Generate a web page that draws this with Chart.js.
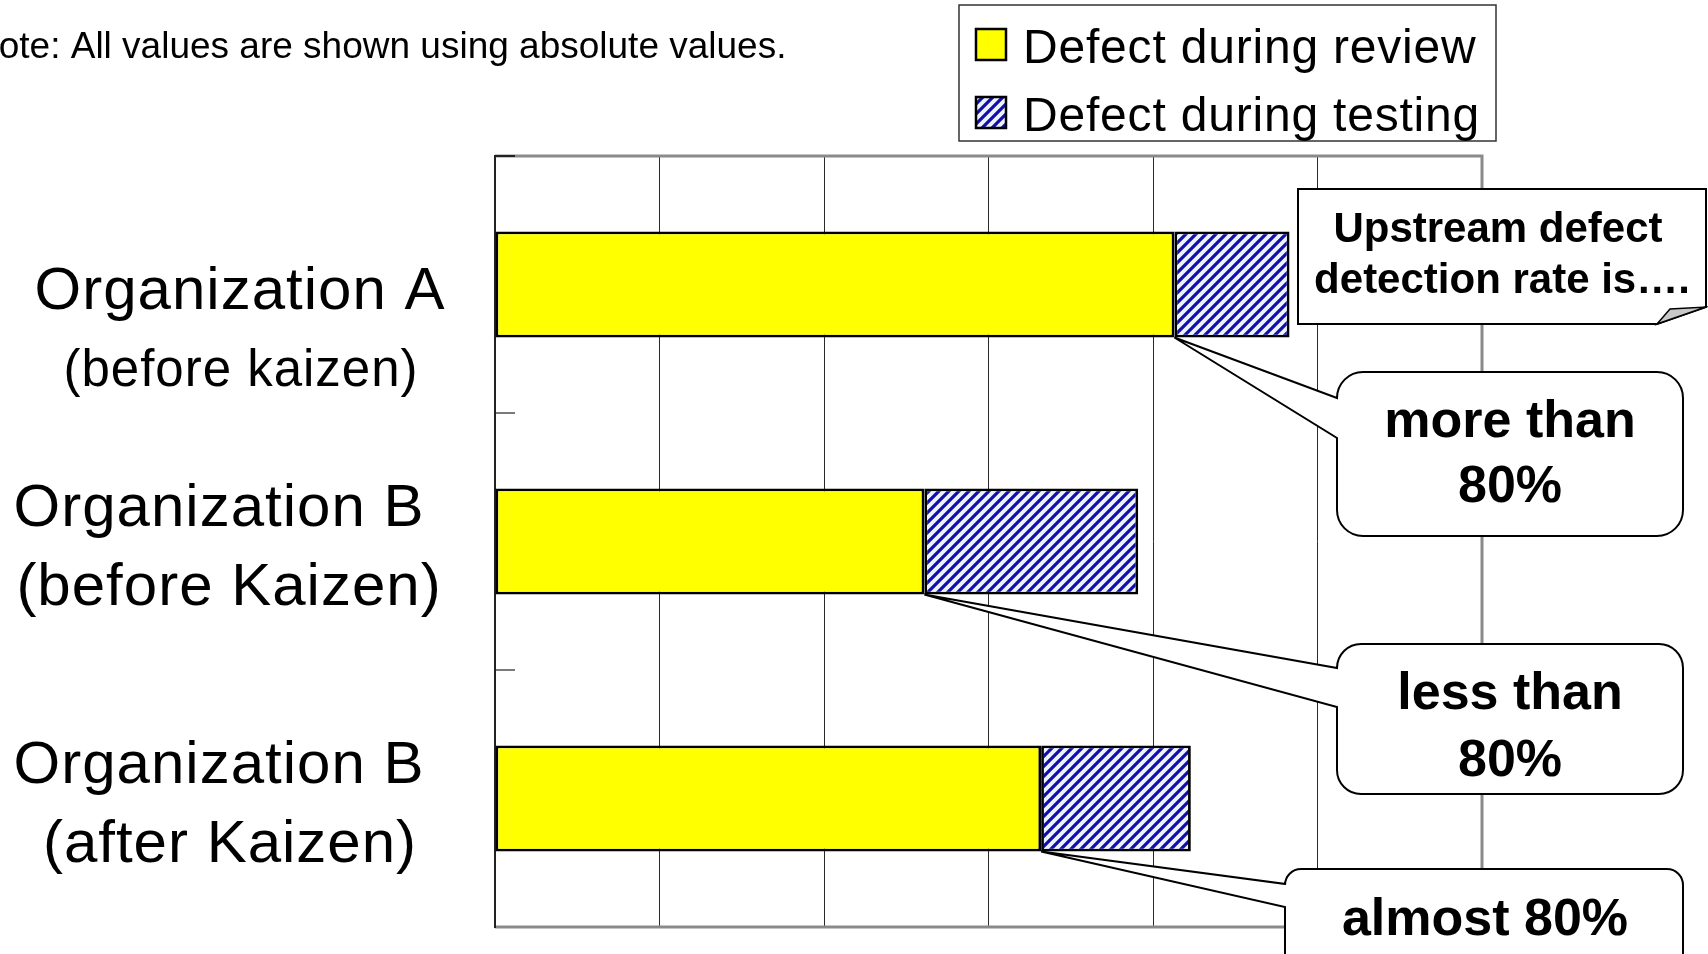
<!DOCTYPE html>
<html>
<head>
<meta charset="utf-8">
<script src="https://cdn.jsdelivr.net/npm/chart.js@4.4.0/dist/chart.umd.min.js"></script>
<style>
  html, body { margin: 0; padding: 0; background: #fff; }
  canvas { display: block; }
</style>
</head>
<body>
<canvas id="chart" width="1708" height="954"></canvas>
<script>
// data (x axis has 6 unlabeled grid steps)
const categories = [
  ['Organization A', '(before kaizen)'],
  ['Organization B', '(before Kaizen)'],
  ['Organization B', '(after Kaizen)']
];
const seriesNames = ['Defect during review', 'Defect during testing'];
const reviewDefects = [41.3, 26.1, 33.2];
const testingDefects = [7.0, 13.0, 9.1];
const calloutTexts = [['more than', '80%'], ['less than', '80%'], ['almost 80%']];
const headerLines = ['Upstream defect', 'detection rate is….'];
const noteText = 'Note: All values are shown using absolute values.';
const axisMax = 60;
const axisStep = 10;

const FONT = '"Liberation Sans", Arial, sans-serif';

// layout of the hand-placed boxes (pixels)
const calloutBoxes = [
  { x: 1337, y: 372, w: 346, h: 164, r: 26, a1: 398, a2: 438, cx: 1510, ty: [423, 488] },
  { x: 1337, y: 644, w: 346, h: 150, r: 24, a1: 668, a2: 707, cx: 1510, ty: [695, 762] },
  { x: 1285, y: 869, w: 398, h: 100, r: 16, a1: 884, a2: 907, cx: 1485, ty: [921] }
];
const labelShift = [40, 0, 0];
const labelLineX = [[240, 241], [219, 229], [219, 230]];

function makeHatch() {
  const c = document.createElement('canvas');
  c.width = 10; c.height = 10;
  const g = c.getContext('2d');
  g.fillStyle = '#eef2ff';
  g.fillRect(0, 0, 10, 10);
  g.strokeStyle = '#1010a8';
  g.lineWidth = 3.2;
  g.beginPath();
  g.moveTo(-5, 5); g.lineTo(5, -5);
  g.moveTo(0, 10); g.lineTo(10, 0);
  g.moveTo(5, 15); g.lineTo(15, 5);
  g.stroke();
  return g.createPattern(c, 'repeat');
}
const hatch = makeHatch();

function roundCallout(ctx, b, ax, ay) {
  const r = b.r, R = b.x + b.w, B = b.y + b.h;
  ctx.beginPath();
  ctx.moveTo(b.x + r, b.y);
  ctx.lineTo(R - r, b.y);
  ctx.arcTo(R, b.y, R, b.y + r, r);
  ctx.lineTo(R, B - r);
  ctx.arcTo(R, B, R - r, B, r);
  ctx.lineTo(b.x + r, B);
  ctx.arcTo(b.x, B, b.x, B - r, r);
  ctx.lineTo(b.x, b.a2);
  ctx.lineTo(ax, ay);
  ctx.lineTo(b.x, b.a1);
  ctx.arcTo(b.x, b.y, b.x + r, b.y, r);
  ctx.closePath();
}

const framePlugin = {
  id: 'frame',
  beforeDatasetsDraw(chart) {
    const { ctx, chartArea: { left, right, top, bottom } } = chart;
    const y = chart.scales.y;
    ctx.save();
    ctx.strokeStyle = '#8a8a8a';
    ctx.lineWidth = 3;
    ctx.beginPath();
    ctx.moveTo(left, top); ctx.lineTo(right, top);
    ctx.lineTo(right, bottom); ctx.lineTo(left, bottom);
    ctx.stroke();
    // small inner ticks at the category boundaries
    for (let i = 0; i < categories.length; i++) {
      const py = y.getPixelForValue(i - 0.5);
      ctx.strokeStyle = i === 0 ? '#222' : '#7a7a7a';
      ctx.lineWidth = 2;
      ctx.beginPath();
      ctx.moveTo(left, py); ctx.lineTo(left + 20, py);
      ctx.stroke();
    }
    ctx.strokeStyle = '#222';
    ctx.lineWidth = 2;
    ctx.beginPath();
    ctx.moveTo(left, top - 1); ctx.lineTo(left, bottom + 1);
    ctx.stroke();
    ctx.restore();
  }
};

const decorPlugin = {
  id: 'decor',
  afterDraw(chart) {
    const { ctx } = chart;
    const yScale = chart.scales.y;
    ctx.save();

    // note
    ctx.fillStyle = '#000';
    ctx.font = '37px ' + FONT;
    ctx.textAlign = 'left';
    ctx.textBaseline = 'alphabetic';
    ctx.fillText(noteText, -28, 58);

    // category labels
    ctx.textAlign = 'center';
    ctx.textBaseline = 'middle';
    ctx.letterSpacing = '1px';
    chart.data.labels.forEach((lines, i) => {
      const cy = yScale.getPixelForValue(i) + labelShift[i];
      lines.forEach((t, k) => {
        ctx.font = (i === 0 && k === 1 ? '51px ' : '60px ') + FONT;
        ctx.fillText(t, labelLineX[i][k], cy + (k === 0 ? -32 : 47));
      });
    });

    // legend
    ctx.letterSpacing = '0.8px';
    ctx.lineWidth = 1.5;
    ctx.strokeStyle = '#333';
    ctx.fillStyle = '#fff';
    ctx.fillRect(959, 5, 537, 136);
    ctx.strokeRect(959, 5, 537, 136);
    chart.data.datasets.forEach((ds, i) => {
      const top = 29 + i * 68;
      ctx.fillStyle = ds.backgroundColor;
      ctx.fillRect(976, top, 30, 31);
      ctx.lineWidth = 2.5;
      ctx.strokeStyle = '#000';
      ctx.strokeRect(976, top, 30, 31);
      ctx.fillStyle = '#000';
      ctx.font = '48px ' + FONT;
      ctx.textAlign = 'left';
      ctx.textBaseline = 'alphabetic';
      ctx.fillText(ds.label, 1023, top + 34);
    });
    ctx.letterSpacing = '0px';

    // header note box with folded corner
    ctx.beginPath();
    ctx.moveTo(1298, 189); ctx.lineTo(1706, 189); ctx.lineTo(1706, 307);
    ctx.lineTo(1657, 324); ctx.lineTo(1298, 324); ctx.closePath();
    ctx.fillStyle = '#fff'; ctx.fill();
    ctx.lineWidth = 2; ctx.strokeStyle = '#000'; ctx.stroke();
    ctx.beginPath();
    ctx.moveTo(1657, 324); ctx.lineTo(1670, 309); ctx.lineTo(1706, 307); ctx.closePath();
    ctx.fillStyle = '#c8c8c8'; ctx.fill(); ctx.lineWidth = 1.5; ctx.stroke();
    ctx.fillStyle = '#000';
    ctx.font = 'bold 42px ' + FONT;
    ctx.textAlign = 'center';
    ctx.textBaseline = 'middle';
    ctx.fillText(headerLines[0], 1498, 230);
    ctx.fillText(headerLines[1], 1502, 281);

    // callouts anchored at the end of each review bar
    const meta = chart.getDatasetMeta(0);
    meta.data.forEach((bar, i) => {
      const b = calloutBoxes[i];
      const ax = bar.x, ay = bar.y + bar.height / 2;
      roundCallout(ctx, b, ax, ay);
      ctx.fillStyle = '#fff'; ctx.fill();
      ctx.lineWidth = 2; ctx.strokeStyle = '#000'; ctx.stroke();
      ctx.fillStyle = '#000';
      ctx.font = 'bold 52px ' + FONT;
      calloutTexts[i].forEach((t, k) => ctx.fillText(t, b.cx, b.ty[k]));
    });
    ctx.restore();
  }
};

const ctx = document.getElementById('chart').getContext('2d');
new Chart(ctx, {
  type: 'bar',
  data: {
    labels: categories,
    datasets: [
      {
        label: seriesNames[0],
        data: reviewDefects,
        backgroundColor: '#ffff00',
        borderColor: '#000',
        borderWidth: 2.8,
        borderSkipped: false,
        barPercentage: 0.825,
        categoryPercentage: 0.5
      },
      {
        label: seriesNames[1],
        data: testingDefects,
        backgroundColor: hatch,
        borderColor: '#000',
        borderWidth: 2.8,
        borderSkipped: false,
        barPercentage: 0.825,
        categoryPercentage: 0.5
      }
    ]
  },
  options: {
    indexAxis: 'y',
    responsive: false,
    animation: false,
    layout: { padding: { left: 495, top: 156, right: 226, bottom: 27 } },
    plugins: {
      legend: { display: false },
      tooltip: { enabled: false }
    },
    scales: {
      x: {
        stacked: true,
        min: 0,
        max: axisMax,
        ticks: { display: false, stepSize: axisStep },
        grid: {
          drawTicks: false,
          lineWidth: 1,
          color: (c) => (c.index === 0 || c.tick && c.tick.value === axisMax) ? 'rgba(0,0,0,0)' : '#2a2a2a'
        },
        border: { display: false }
      },
      y: {
        stacked: true,
        display: false
      }
    }
  },
  plugins: [framePlugin, decorPlugin]
});
</script>
</body>
</html>
